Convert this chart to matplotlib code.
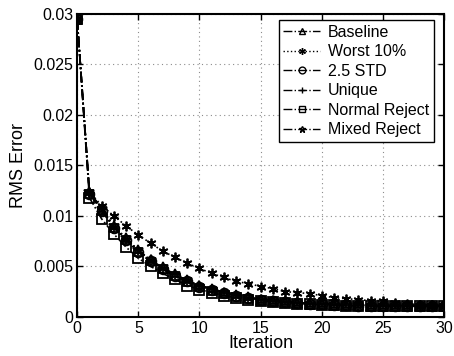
import numpy as np
import matplotlib
matplotlib.use('Agg')
import matplotlib.pyplot as plt

plt.rcParams['font.family'] = ['Liberation Sans', 'DejaVu Sans']

# iteration index and RMS error for each method
iters = list(range(31))
baseline = [0.0295, 0.0123, 0.0106, 0.0089, 0.0077, 0.0065, 0.0056, 0.0048, 0.0041, 0.0035,
            0.0031, 0.0027, 0.0024, 0.0021, 0.0019, 0.0017, 0.0016, 0.0015, 0.0014, 0.0013,
            0.0013, 0.0012, 0.0012, 0.0012, 0.0011, 0.0011, 0.0011, 0.0011, 0.0011, 0.0011, 0.0011]
worst10 = [0.0295, 0.0124, 0.0110, 0.0100, 0.0090, 0.0081, 0.0073, 0.0065, 0.0059, 0.0053,
           0.0048, 0.0043, 0.0039, 0.0035, 0.0033, 0.0030, 0.0028, 0.0025, 0.0024, 0.0023,
           0.0021, 0.0019, 0.0018, 0.0017, 0.0016, 0.0016, 0.0014, 0.0013, 0.0012, 0.0012, 0.0011]
std25 = [0.0295, 0.0122, 0.0105, 0.0088, 0.0076, 0.0064, 0.0055, 0.0047, 0.0040, 0.0035,
         0.0030, 0.0027, 0.0024, 0.0021, 0.0019, 0.0017, 0.0016, 0.0015, 0.0014, 0.0013,
         0.0013, 0.0012, 0.0012, 0.0011, 0.0011, 0.0011, 0.0011, 0.0011, 0.0011, 0.0011, 0.0011]
unique = [0.0295, 0.0124, 0.0107, 0.0089, 0.0077, 0.0066, 0.0056, 0.0048, 0.0042, 0.0036,
          0.0031, 0.0028, 0.0024, 0.0022, 0.0019, 0.0017, 0.0016, 0.0015, 0.0014, 0.0013,
          0.0013, 0.0012, 0.0012, 0.0012, 0.0011, 0.0011, 0.0011, 0.0011, 0.0011, 0.0011, 0.0011]
normal = [0.0295, 0.0118, 0.0097, 0.0082, 0.0069, 0.0058, 0.0050, 0.0043, 0.0037, 0.0031,
          0.0027, 0.0024, 0.0021, 0.0019, 0.0017, 0.0016, 0.0015, 0.0014, 0.0013, 0.0013,
          0.0012, 0.0012, 0.0011, 0.0011, 0.0011, 0.0011, 0.0011, 0.0011, 0.0011, 0.0011, 0.0011]
mixed = [0.0295, 0.0124, 0.0107, 0.0090, 0.0078, 0.0066, 0.0056, 0.0049, 0.0042, 0.0036,
         0.0031, 0.0028, 0.0024, 0.0022, 0.0020, 0.0017, 0.0016, 0.0015, 0.0014, 0.0013,
         0.0013, 0.0012, 0.0012, 0.0012, 0.0011, 0.0011, 0.0011, 0.0011, 0.0011, 0.0011, 0.0011]

fig = plt.figure(figsize=(4.54, 3.56), dpi=100)
ax = fig.add_axes([0.170, 0.110, 0.808, 0.851])

kw = dict(color='k', mfc='none', mew=1.3, ms=7, lw=1.2)
ax.plot(iters, baseline, '-.', marker='^', label='Baseline', **kw)
ax.plot(iters, worst10, ':', marker=(6, 2, 0), label='Worst 10%', **kw)
ax.plot(iters, std25, '-.', marker='o', label='2.5 STD', **kw)
ax.plot(iters, unique, '-.', marker='+', label='Unique', **kw)
ax.plot(iters, normal, '-.', marker='s', label='Normal Reject', **kw)
ax.plot(iters, mixed, '-.', marker='*', label='Mixed Reject', **kw)

ax.set_xlim(0, 30)
ax.set_ylim(0, 0.03)
ax.set_xticks(range(0, 31, 5))
ax.set_yticks([0, 0.005, 0.01, 0.015, 0.02, 0.025, 0.03])
ax.set_yticklabels(['0', '0.005', '0.01', '0.015', '0.02', '0.025', '0.03'])
ax.tick_params(direction='in', labelsize=11.5, length=4, width=1, pad=3,
               top=True, right=True)
ax.grid(True, linestyle=(0, (1, 3)), color='0.55', lw=0.8)
for s in ax.spines.values():
    s.set_linewidth(1.5)

ax.set_xlabel('Iteration', fontsize=13, labelpad=-1)
ax.set_ylabel('RMS Error', fontsize=13, labelpad=4)

leg = ax.legend(loc='upper right', bbox_to_anchor=(0.973, 0.980), fontsize=11.5,
                frameon=True, fancybox=False, edgecolor='k', handlelength=2.3,
                markerscale=0.7, borderpad=0.3, labelspacing=0.28,
                handletextpad=0.5, borderaxespad=0)
leg.get_frame().set_linewidth(1.0)
leg.get_frame().set_alpha(1)
for h in leg.get_lines():
    h.set_linewidth(1.0)
    h.set_markeredgewidth(1.0)

fig.savefig('out.png', dpi=100)
